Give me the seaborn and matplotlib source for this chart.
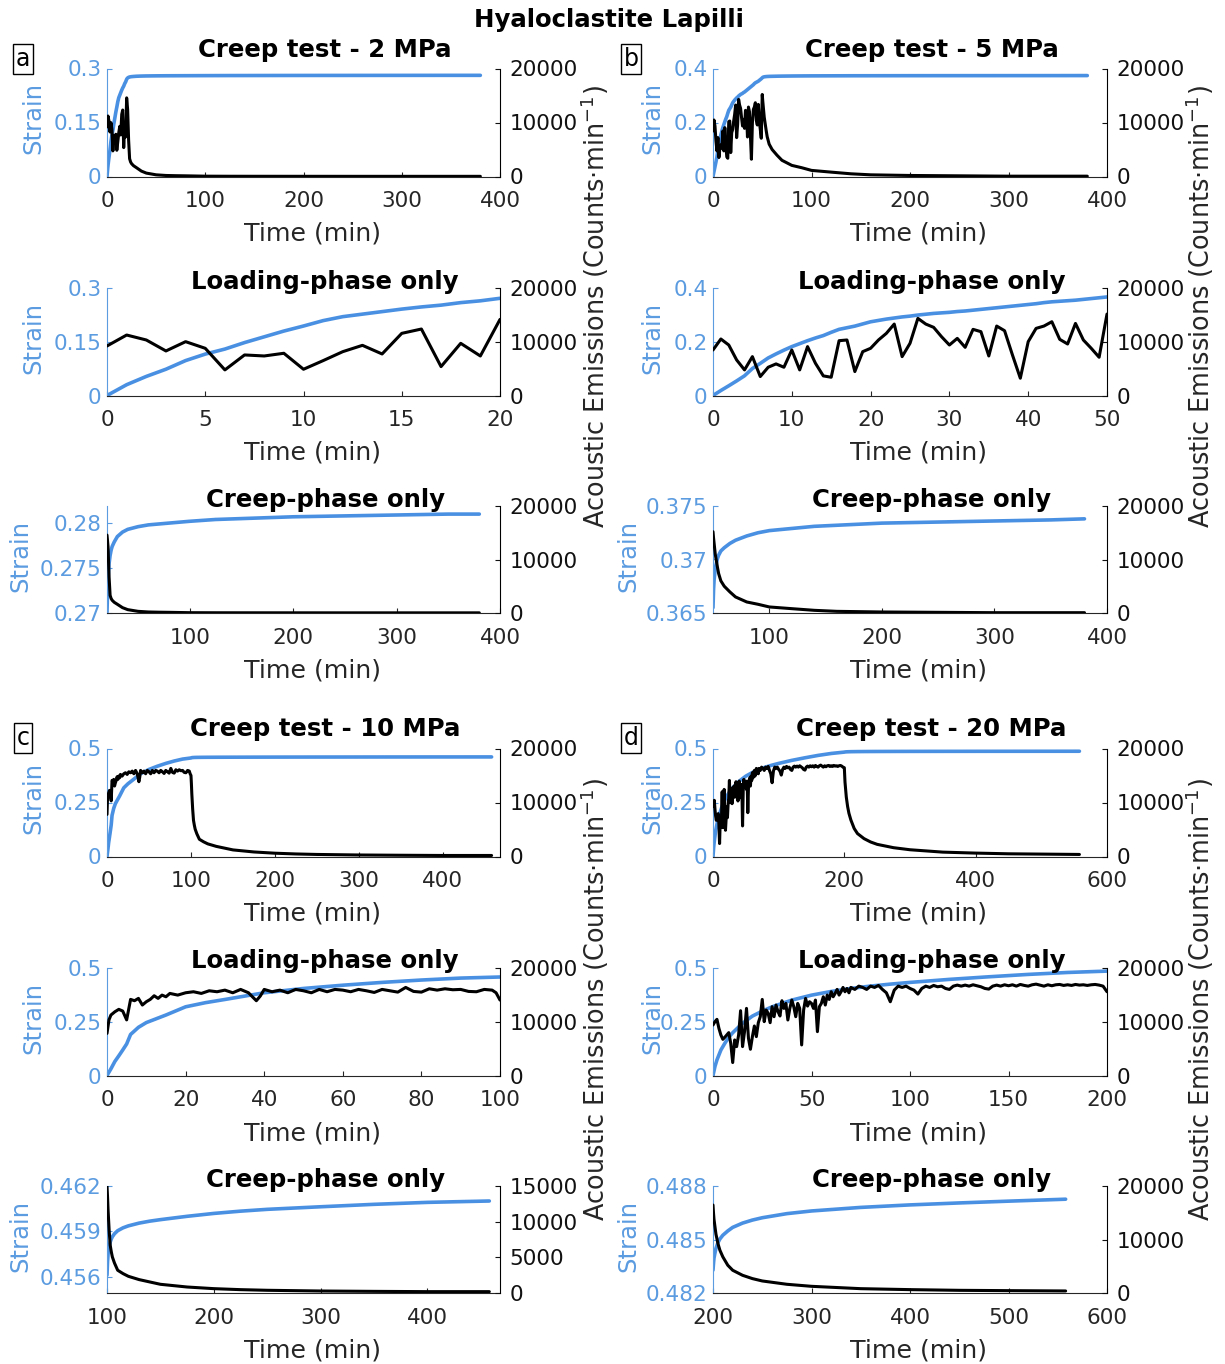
import matplotlib
matplotlib.use("Agg")
import matplotlib.pyplot as plt
import seaborn as sns

# ---------------------------------------------------------------------------
# Hyaloclastite lapilli creep tests: strain and acoustic emission (AE) rate
# ---------------------------------------------------------------------------

# ---- 2 MPa -----------------------------------------------------------------
a_load_t = list(range(0, 21))
a_load_strain = [0, 0.030, 0.053, 0.073, 0.097, 0.115, 0.129, 0.147, 0.163, 0.179,
                 0.193, 0.208, 0.219, 0.226, 0.233, 0.240, 0.246, 0.251, 0.258,
                 0.263, 0.270]
a_load_ae = [9170, 11200, 10280, 8250, 9970, 8740, 4740, 7510, 7320, 7820, 4860,
             6460, 8120, 9290, 7690, 11510, 12310, 5350, 9660, 7320, 14090]
a_creep_t = [20, 20.5, 21, 22, 23, 24, 25, 27, 30, 35, 40, 50, 60, 70, 80, 100,
             125, 150, 200, 250, 300, 350, 380]
a_creep_strain = [0.2701, 0.2722, 0.2737, 0.2755, 0.2764, 0.2770, 0.2774, 0.2779,
                  0.2785, 0.2790, 0.2793, 0.2796, 0.2798, 0.2799, 0.2800, 0.2802,
                  0.2804, 0.2805, 0.2807, 0.2808, 0.2809, 0.2810, 0.2810]
a_creep_ae = [14560, 13500, 12380, 6750, 3300, 2700, 2380, 2000, 1630, 1000, 630,
              310, 190, 150, 125, 60, 45, 40, 35, 30, 30, 30, 30]

# ---- 5 MPa -----------------------------------------------------------------
b_load_t = list(range(0, 51))
b_load_strain = [0, 0.0185, 0.036, 0.054, 0.073, 0.100, 0.119, 0.139, 0.154, 0.168,
                 0.181, 0.192, 0.203, 0.213, 0.222, 0.234, 0.245, 0.251, 0.257,
                 0.265, 0.273, 0.278, 0.283, 0.287, 0.291, 0.294, 0.298, 0.301,
                 0.304, 0.306, 0.308, 0.311, 0.313, 0.316, 0.319, 0.322, 0.325,
                 0.328, 0.331, 0.334, 0.337, 0.340, 0.344, 0.347, 0.349, 0.351,
                 0.353, 0.356, 0.359, 0.362, 0.365]
b_load_ae = [8430, 10460, 9350, 6585, 4740, 7200, 3510, 5230, 5850, 5230, 8430,
             4740, 9050, 5970, 3630, 3380, 10150, 10280, 4430, 8120, 8740, 10280,
             11510, 13230, 7200, 9660, 14280, 13230, 12620, 10890, 9350, 10580,
             8920, 12250, 11820, 7320, 12860, 12000, 7510, 3200, 9970, 12430,
             12860, 13660, 10400, 9540, 13350, 10280, 8740, 7080, 15080]
b_creep_t = [50, 50.5, 51, 52, 54, 55, 57, 60, 65, 70, 80, 90, 100, 120, 140, 160,
             200, 250, 300, 350, 380]
b_creep_strain = [0.3655, 0.3672, 0.3681, 0.3692, 0.3701, 0.3704, 0.3708, 0.3711,
                  0.3715, 0.3718, 0.3722, 0.3725, 0.3727, 0.3729, 0.3731, 0.3732,
                  0.3734, 0.3735, 0.3736, 0.3737, 0.3738]
b_creep_ae = [15190, 14000, 13000, 11000, 8500, 7380, 6000, 5000, 3940, 3000, 2060,
              1630, 1130, 810, 500, 310, 190, 125, 60, 60, 60]

# ---- 10 MPa ----------------------------------------------------------------
c_load_strain_t = [0, 1, 2, 3, 4, 5, 6, 8, 10, 15, 20, 25, 30, 40, 50, 60, 70, 80,
                   90, 100]
c_load_strain = [0, 0.031, 0.065, 0.091, 0.118, 0.146, 0.190, 0.223, 0.245, 0.280,
                 0.318, 0.337, 0.352, 0.383, 0.403, 0.418, 0.431, 0.442, 0.451,
                 0.456]
c_load_ae_t = ([0, 0.5] + list(range(1, 17)) + list(range(18, 37, 2)) + [37, 38, 39]
               + list(range(40, 99, 2)) + [99, 100])
c_load_ae = [7800, 10300, 11200, 11800, 12250, 11940, 10300, 14090, 13850, 14280,
             13050, 13660, 14090, 14770, 14280, 14890, 14580, 15200,
             14890, 15320, 15510, 15200, 15690, 15510, 15810, 15320, 15940, 15320,
             14580, 13850, 14710,
             15940, 15510, 15810, 15320, 15940, 15690, 15320, 15940, 15510, 15940,
             15810, 15510, 15940, 15690, 15380, 15940, 15690, 15440, 16310, 15570,
             15440, 16060, 15810, 16060, 15880, 15940, 15570, 15510, 15940, 15810,
             15320, 13970]
c_creep_t = [100, 100.5, 101, 102, 103, 104, 105, 107, 110, 115, 120, 130, 140, 150,
             175, 200, 225, 250, 300, 350, 400, 458]
c_creep_strain = [0.45611, 0.45700, 0.45750, 0.45800, 0.45830, 0.45850, 0.45865,
                  0.45885, 0.45905, 0.45924, 0.45937, 0.45955, 0.45968, 0.45978,
                  0.46000, 0.46019, 0.46034, 0.46046, 0.46063, 0.46079, 0.46092,
                  0.46101]
c_creep_ae = [15000, 13500, 11620, 8810, 6700, 5800, 5060, 4200, 3190, 2720, 2340,
              1880, 1550, 1220, 840, 610, 470, 380, 280, 230, 190, 190]

# ---- 20 MPa ----------------------------------------------------------------
d_load_strain_t = [0, 1, 2, 4, 6, 8, 10, 15, 20, 25, 30, 40, 50, 60, 70, 80, 90,
                   100, 120, 140, 160, 180, 200]
d_load_strain = [0, 0.042, 0.072, 0.118, 0.149, 0.177, 0.198, 0.242, 0.275, 0.298,
                 0.318, 0.349, 0.372, 0.389, 0.403, 0.414, 0.423, 0.431, 0.445,
                 0.457, 0.468, 0.477, 0.4833]
d_load_ae_t = list(range(0, 71)) + list(range(72, 201, 2))
d_load_ae = [9350, 9970, 10400, 8740, 7500, 6700, 7080, 7500, 7940, 5970,
             2400, 6580, 5350, 7500, 12000, 5350, 8120, 12430, 6890, 4860,
             7200, 9170, 7200, 9780, 10890, 14090, 9970, 12120, 11510, 9780,
             12740, 10890, 13050, 11820, 11020, 13850, 12430, 13350, 10280, 12430,
             13970, 12740, 10890, 13350, 12430, 5660, 12120, 14280, 12860, 13660,
             13350, 12430, 13970, 8120, 12740, 13350, 14580, 13050, 14890, 14090,
             15510, 14580, 15200, 15940, 14890, 15510, 16310, 15510, 16120, 15320,
             16310,
             15940, 16550, 16310, 15940, 16550, 16310, 16680, 15940, 15320, 13660,
             15810, 16550, 16310, 16550, 16120, 15810, 15080, 16120, 16550, 16310,
             16680, 16430, 16550, 16120, 15940, 16550, 16740, 16550, 16740, 16550,
             16800, 16620, 16430, 16120, 16000, 16550, 16740, 16550, 16800, 16620,
             16800, 16550, 16860, 16680, 16550, 16800, 16920, 16740, 16550, 16800,
             16620, 16800, 16860, 16680, 16800, 16680, 16860, 16740, 16800, 16680,
             16800, 16860, 16740, 16550, 15510]
d_creep_t = [200, 200.5, 201, 202, 203, 205, 207, 210, 215, 220, 230, 240, 250, 275,
             300, 350, 400, 450, 500, 558]
d_creep_strain = [0.48328, 0.48365, 0.48395, 0.48425, 0.48450, 0.48482, 0.48503,
                  0.48524, 0.48548, 0.48568, 0.48592, 0.48609, 0.48622, 0.48645,
                  0.48660, 0.48680, 0.48694, 0.48705, 0.48715, 0.48726]
d_creep_ae = [16440, 15000, 13800, 12380, 11000, 9250, 8000, 6750, 5190, 4250, 3310,
              2690, 2250, 1630, 1250, 810, 630, 500, 440, 380]

# ---------------------------------------------------------------------------
W, H = 1225, 1364
STRAIN_BLUE = "#4A90E2"
LABEL_BLUE = "#5B9BE0"
DARK = "#262626"

sns.set_theme(style="white")
plt.rcParams["font.family"] = ["DejaVu Sans"]
plt.rcParams["axes.linewidth"] = 0.8

fig = plt.figure(figsize=(W / 100, H / 100), dpi=100)


def fx(x):
    return x / W


def fy(y):
    return 1 - y / H


def make_panel(x0, width, y_top, height, xlim, xticks, sl, sticks, slabels,
               al, aticks, st, sv, at, av, title, title_y, strain_x):
    ax = fig.add_axes([fx(x0), fy(y_top + height), width / W, height / H])
    ax2 = ax.twinx()

    sns.lineplot(x=st, y=sv, ax=ax, color=STRAIN_BLUE, lw=2.6,
                 estimator=None, sort=False)
    sns.lineplot(x=at, y=av, ax=ax2, color="black", lw=2.2,
                 estimator=None, sort=False)

    ax.set_xlim(*xlim)
    ax.set_ylim(*sl)
    ax2.set_ylim(*al)
    ax.set_xticks(xticks)
    ax.set_xticklabels([f"{v:g}" for v in xticks])
    ax.set_yticks(sticks)
    ax.set_yticklabels(slabels)
    ax2.set_yticks(aticks)
    ax2.set_yticklabels([f"{v:d}" for v in aticks])
    ax.set_xlabel("")
    ax.set_ylabel("")
    ax2.set_ylabel("")

    for a in (ax, ax2):
        a.spines["top"].set_visible(False)
        a.grid(False)
    ax.spines["right"].set_visible(False)
    ax.spines["left"].set_color(LABEL_BLUE)
    ax.spines["bottom"].set_color(DARK)
    ax2.spines["left"].set_visible(False)
    ax2.spines["bottom"].set_visible(False)
    ax2.spines["right"].set_color("black")

    ax.tick_params(axis="x", direction="in", length=3.5, width=0.8, pad=10.5,
                   labelsize=15.5, colors=DARK, bottom=True, top=False)
    ax.tick_params(axis="y", direction="in", length=3.5, width=0.8, pad=4,
                   labelsize=15.5, colors=LABEL_BLUE, left=True, right=False)
    ax2.tick_params(axis="y", direction="in", length=3.5, width=0.8, pad=7,
                    labelsize=15.5, colors="#111111", right=True, left=False)

    # title, axis labels in figure pixel positions
    fig.text(fx(x0 + 0.555 * width), fy(title_y), title, ha="center",
             va="center", fontsize=17.6, fontweight="bold", color="black")
    fig.text(fx(x0 + 0.523 * width), fy(y_top + height + 57.5), "Time (min)",
             ha="center", va="center", fontsize=18.2, color=DARK)
    fig.text(fx(strain_x), fy(y_top + height / 2 - 4), "Strain", ha="center",
             va="center", rotation=90, fontsize=17.5, color=LABEL_BLUE)
    return ax


LX, RX = 107, 713
LW, RW = 393, 394
rows = [68.5, 287.5, 506, 748.5, 967.5, 1186]
heights = [108, 108, 107, 108, 108, 107]
title_ys = [50, 282, 500, 729, 961, 1180]

right_ae_ticks = [0, 10000, 20000]

# ---- panel a (2 MPa) ----
make_panel(LX, LW, rows[0], heights[0], (0, 400), [0, 100, 200, 300, 400],
           (0, 0.3), [0, 0.15, 0.3], ["0", "0.15", "0.3"], (0, 20000), right_ae_ticks,
           a_load_t[:-1] + a_creep_t, a_load_strain[:-1] + a_creep_strain,
           a_load_t[:-1] + a_creep_t, a_load_ae[:-1] + a_creep_ae,
           "Creep test - 2 MPa", title_ys[0], 33)
make_panel(LX, LW, rows[1], heights[1], (0, 20), [0, 5, 10, 15, 20],
           (0, 0.3), [0, 0.15, 0.3], ["0", "0.15", "0.3"], (0, 20000), right_ae_ticks,
           a_load_t, a_load_strain, a_load_t, a_load_ae,
           "Loading-phase only", title_ys[1], 33)
make_panel(LX, LW, rows[2], heights[2], (20, 400), [100, 200, 300, 400],
           (0.27, 0.2819), [0.27, 0.275, 0.28], ["0.27", "0.275", "0.28"],
           (0, 20000), right_ae_ticks,
           a_creep_t, a_creep_strain, a_creep_t, a_creep_ae,
           "Creep-phase only", title_ys[2], 20)

# ---- panel b (5 MPa) ----
make_panel(RX, RW, rows[0], heights[0], (0, 400), [0, 100, 200, 300, 400],
           (0, 0.4), [0, 0.2, 0.4], ["0", "0.2", "0.4"], (0, 20000), right_ae_ticks,
           b_load_t[:-1] + b_creep_t, b_load_strain[:-1] + b_creep_strain,
           b_load_t[:-1] + b_creep_t, b_load_ae[:-1] + b_creep_ae,
           "Creep test - 5 MPa", title_ys[0], 652)
make_panel(RX, RW, rows[1], heights[1], (0, 50), [0, 10, 20, 30, 40, 50],
           (0, 0.4), [0, 0.2, 0.4], ["0", "0.2", "0.4"], (0, 20000), right_ae_ticks,
           b_load_t, b_load_strain, b_load_t, b_load_ae,
           "Loading-phase only", title_ys[1], 652)
make_panel(RX, RW, rows[2], heights[2], (50, 400), [100, 200, 300, 400],
           (0.365, 0.375), [0.365, 0.37, 0.375], ["0.365", "0.37", "0.375"],
           (0, 20000), right_ae_ticks,
           b_creep_t, b_creep_strain, b_creep_t, b_creep_ae,
           "Creep-phase only", title_ys[2], 628)

# ---- panel c (10 MPa) ----
make_panel(LX, LW, rows[3], heights[3], (0, 468), [0, 100, 200, 300, 400],
           (0, 0.5), [0, 0.25, 0.5], ["0", "0.25", "0.5"], (0, 20000), right_ae_ticks,
           c_load_strain_t[:-1] + c_creep_t, c_load_strain[:-1] + c_creep_strain,
           c_load_ae_t[:-1] + c_creep_t, c_load_ae[:-1] + c_creep_ae,
           "Creep test - 10 MPa", title_ys[3], 33)
make_panel(LX, LW, rows[4], heights[4], (0, 100), [0, 20, 40, 60, 80, 100],
           (0, 0.5), [0, 0.25, 0.5], ["0", "0.25", "0.5"], (0, 20000), right_ae_ticks,
           c_load_strain_t, c_load_strain, c_load_ae_t, c_load_ae,
           "Loading-phase only", title_ys[4], 33)
make_panel(LX, LW, rows[5], heights[5], (100, 468), [100, 200, 300, 400],
           (0.45494, 0.462), [0.456, 0.459, 0.462], ["0.456", "0.459", "0.462"],
           (0, 15000), [0, 5000, 10000, 15000],
           c_creep_t, c_creep_strain, c_creep_t, c_creep_ae,
           "Creep-phase only", title_ys[5], 20)

# ---- panel d (20 MPa) ----
make_panel(RX, RW, rows[3], heights[3], (0, 600), [0, 200, 400, 600],
           (0, 0.5), [0, 0.25, 0.5], ["0", "0.25", "0.5"], (0, 20000), right_ae_ticks,
           d_load_strain_t[:-1] + d_creep_t, d_load_strain[:-1] + d_creep_strain,
           d_load_ae_t[:-1] + d_creep_t, d_load_ae[:-1] + d_creep_ae,
           "Creep test - 20 MPa", title_ys[3], 652)
make_panel(RX, RW, rows[4], heights[4], (0, 200), [0, 50, 100, 150, 200],
           (0, 0.5), [0, 0.25, 0.5], ["0", "0.25", "0.5"], (0, 20000), right_ae_ticks,
           d_load_strain_t, d_load_strain, d_load_ae_t, d_load_ae,
           "Loading-phase only", title_ys[4], 652)
make_panel(RX, RW, rows[5], heights[5], (200, 600), [200, 300, 400, 500, 600],
           (0.482, 0.488), [0.482, 0.485, 0.488], ["0.482", "0.485", "0.488"],
           (0, 20000), right_ae_ticks,
           d_creep_t, d_creep_strain, d_creep_t, d_creep_ae,
           "Creep-phase only", title_ys[5], 628)

# ---- shared right-hand labels, panel letters and figure title ----
ae_label = "Acoustic Emissions (Counts\u00b7min$^{-1}$)"
for (x, y) in [(595, 307), (1200, 307), (595, 1000), (1200, 1000)]:
    fig.text(fx(x), fy(y), ae_label, rotation=90, ha="center", va="center",
             fontsize=18.4, color=DARK)

for letter, (x, y) in zip("abcd", [(23, 59), (631, 59), (23, 738), (631, 738)]):
    fig.text(fx(x), fy(y), letter, ha="center", va="center", fontsize=17,
             color="black",
             bbox=dict(boxstyle="square,pad=0.12", fc="white", ec="black", lw=1.0))

fig.text(fx(609), fy(20), "Hyaloclastite Lapilli", ha="center", va="center",
         fontsize=17.6, fontweight="bold", color="black")

fig.savefig("out.png", dpi=100)
